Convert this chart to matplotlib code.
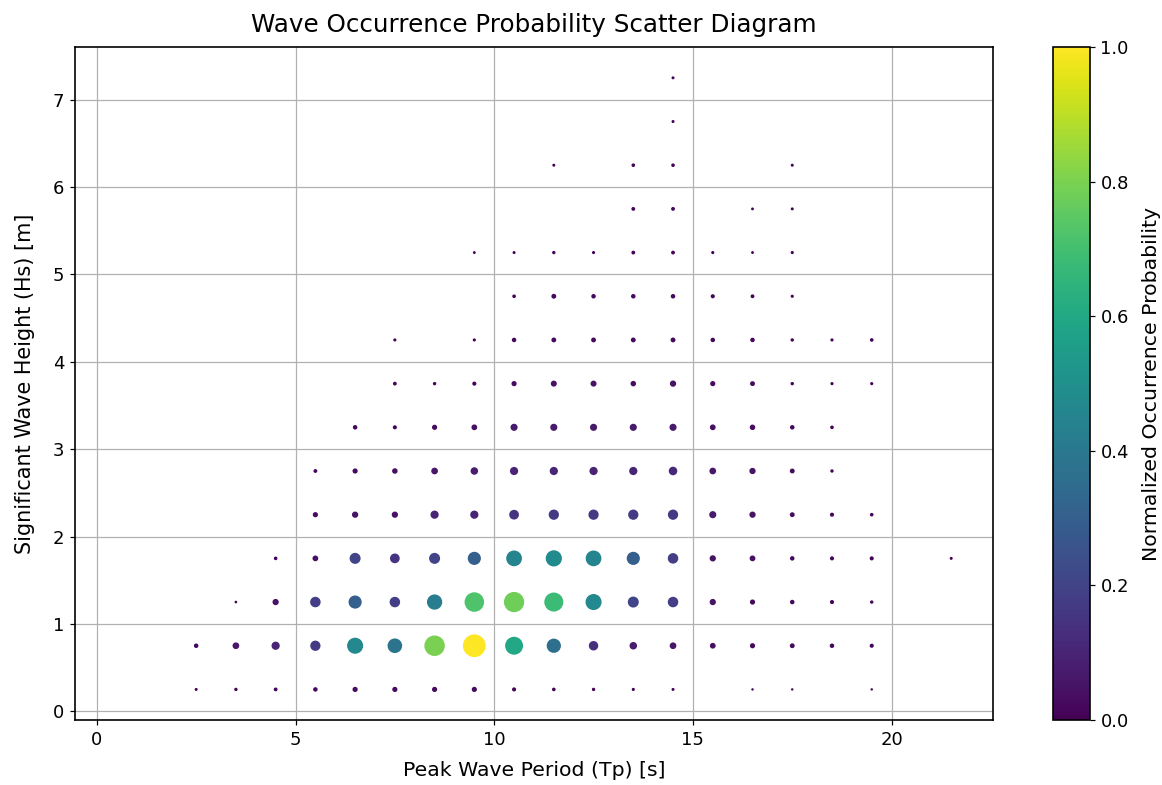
import numpy as np
import matplotlib
matplotlib.use("Agg")
import matplotlib.pyplot as plt

# peak period bins (s) and significant wave height bins (m)
tp_bins = np.arange(0.5, 22.0, 1.0)
hs_bins = np.arange(0.25, 7.5, 0.5)

# normalized occurrence, one list per Hs bin, columns follow tp_bins
occ_hs_025 = [0, 0, 0.005, 0.008, 0.012, 0.02, 0.03, 0.03, 0.03, 0.03, 0.015, 0.01, 0.008, 0.006, 0.005, 0, 0.002, 0.002, 0, 0.002, 0, 0]
occ_hs_075 = [0, 0, 0.02, 0.06, 0.1, 0.17, 0.47, 0.38, 0.8, 1.0, 0.6, 0.36, 0.14, 0.08, 0.06, 0.04, 0.03, 0.025, 0.02, 0.015, 0, 0]
occ_hs_125 = [0, 0, 0, 0.003, 0.05, 0.18, 0.3, 0.18, 0.42, 0.72, 0.78, 0.68, 0.47, 0.2, 0.18, 0.05, 0.03, 0.02, 0.015, 0.008, 0, 0]
occ_hs_175 = [0, 0, 0, 0, 0.01, 0.04, 0.2, 0.15, 0.2, 0.3, 0.45, 0.48, 0.45, 0.3, 0.18, 0.05, 0.04, 0.02, 0.015, 0.015, 0, 0.005]
occ_hs_225 = [0, 0, 0, 0, 0, 0.03, 0.05, 0.05, 0.1, 0.1, 0.15, 0.17, 0.17, 0.17, 0.17, 0.07, 0.05, 0.025, 0.015, 0.01, 0, 0]
occ_hs_275 = [0, 0, 0, 0, 0, 0.012, 0.03, 0.035, 0.06, 0.08, 0.1, 0.1, 0.1, 0.1, 0.11, 0.06, 0.05, 0.025, 0.008, 0, 0, 0]
occ_hs_325 = [0, 0, 0, 0, 0, 0, 0.02, 0.015, 0.03, 0.04, 0.07, 0.07, 0.07, 0.07, 0.07, 0.04, 0.035, 0.02, 0.01, 0, 0, 0]
occ_hs_375 = [0, 0, 0, 0, 0, 0, 0, 0.012, 0.008, 0.015, 0.03, 0.045, 0.045, 0.035, 0.05, 0.03, 0.025, 0.008, 0.006, 0.006, 0, 0]
occ_hs_425 = [0, 0, 0, 0, 0, 0, 0, 0.006, 0, 0.006, 0.02, 0.025, 0.025, 0.025, 0.025, 0.02, 0.02, 0.008, 0.006, 0.01, 0, 0]
occ_hs_475 = [0, 0, 0, 0, 0, 0, 0, 0, 0, 0, 0.01, 0.025, 0.02, 0.02, 0.02, 0.015, 0.012, 0.006, 0, 0, 0, 0]
occ_hs_525 = [0, 0, 0, 0, 0, 0, 0, 0, 0, 0.004, 0.005, 0.008, 0.006, 0.012, 0.012, 0.006, 0.004, 0.006, 0, 0, 0, 0]
occ_hs_575 = [0, 0, 0, 0, 0, 0, 0, 0, 0, 0, 0, 0, 0, 0.012, 0.012, 0, 0.004, 0.005, 0, 0, 0, 0]
occ_hs_625 = [0, 0, 0, 0, 0, 0, 0, 0, 0, 0, 0, 0.005, 0, 0.01, 0.01, 0, 0, 0.005, 0, 0, 0, 0]
occ_hs_675 = [0, 0, 0, 0, 0, 0, 0, 0, 0, 0, 0, 0, 0, 0, 0.005, 0, 0, 0, 0, 0, 0, 0]
occ_hs_725 = [0, 0, 0, 0, 0, 0, 0, 0, 0, 0, 0, 0, 0, 0, 0.005, 0, 0, 0, 0, 0, 0, 0]

occ = np.array([occ_hs_025, occ_hs_075, occ_hs_125, occ_hs_175, occ_hs_225,
                occ_hs_275, occ_hs_325, occ_hs_375, occ_hs_425, occ_hs_475,
                occ_hs_525, occ_hs_575, occ_hs_625, occ_hs_675, occ_hs_725])

TP, HS = np.meshgrid(tp_bins, hs_bins)
mask = occ > 0

plt.rcParams['xtick.labelsize'] = 12
plt.rcParams['ytick.labelsize'] = 12
plt.rcParams['axes.linewidth'] = 1.1

fig = plt.figure(figsize=(1162 / 108, 785 / 108), dpi=108)
ax = fig.add_axes([0.0645, 0.0828, 0.790, 0.857])
cax = fig.add_axes([0.906, 0.0828, 0.032, 0.857])

sc = ax.scatter(TP[mask], HS[mask], s=occ[mask] * 200, c=occ[mask],
                cmap='viridis', vmin=0, vmax=1)

# keep the 5% margins of the full bin grid
tp_pad = 0.05 * (tp_bins.max() - tp_bins.min())
hs_pad = 0.05 * (hs_bins.max() - hs_bins.min())
ax.set_xlim(tp_bins.min() - tp_pad, tp_bins.max() + tp_pad)
ax.set_ylim(hs_bins.min() - hs_pad, hs_bins.max() + hs_pad)

ax.set_title('Wave Occurrence Probability Scatter Diagram', fontsize=16.4, pad=10)
ax.set_xlabel('Peak Wave Period (Tp) [s]', fontsize=13.6, labelpad=8)
ax.set_ylabel('Significant Wave Height (Hs) [m]', fontsize=13.8, labelpad=12)
ax.grid(True)

cb = fig.colorbar(sc, cax=cax)
cb.set_label('Normalized Occurrence Probability', fontsize=13.6, labelpad=9)

fig.savefig('out.png', dpi=108)
